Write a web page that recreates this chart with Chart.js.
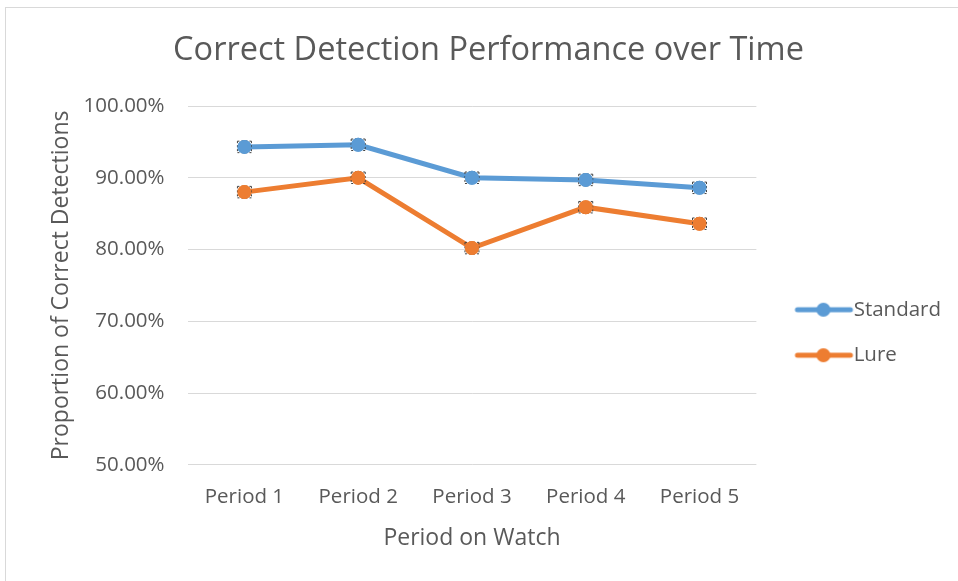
<!DOCTYPE html>
<html>
<head>
<meta charset="utf-8">
<script src="https://cdn.jsdelivr.net/npm/chart.js@4.4.0/dist/chart.umd.min.js"></script>
<style>
  body { margin: 0; background: #fff; }
  #wrap { position: relative; width: 958px; height: 581px; overflow: hidden; }
  #frame { position: absolute; left: 5px; top: 7px; width: 1000px; height: 1000px;
           border: 1px solid #d9d9d9; pointer-events: none; }
</style>
</head>
<body>
<div id="wrap">
  <canvas id="chart" width="958" height="581"></canvas>
  <div id="frame"></div>
</div>
<script>
// data
var periods = ['Period 1', 'Period 2', 'Period 3', 'Period 4', 'Period 5'];
var standard = [0.943, 0.946, 0.900, 0.897, 0.886];
var lure = [0.880, 0.900, 0.802, 0.859, 0.836];
var standardErr = [0.008, 0.008, 0.008, 0.008, 0.008];
var lureErr = [0.008, 0.008, 0.008, 0.008, 0.008];

var blue = '#5B9BD5';
var orange = '#ED7D31';
var textColor = '#595959';

// legend marker: line with a dot, drawn off-centre so the text sits close to it
function legendMark(color) {
    var c = document.createElement('canvas');
    c.width = 84; c.height = 16;
    var g = c.getContext('2d');
    g.strokeStyle = color;
    g.lineWidth = 5;
    g.lineCap = 'round';
    g.beginPath(); g.moveTo(27, 8); g.lineTo(80, 8); g.stroke();
    g.fillStyle = color;
    g.beginPath(); g.arc(53, 8, 7, 0, Math.PI * 2); g.fill();
    return c;
}

// small error bar caps, markers redrawn on top
var errorBars = {
    id: 'errorBars',
    afterDatasetsDraw: function(chart) {
        var ctx = chart.ctx;
        var y = chart.scales.y;
        var errs = [standardErr, lureErr];
        ctx.save();
        ctx.strokeStyle = '#404040';
        ctx.lineWidth = 1;
        ctx.setLineDash([2, 2]);
        chart.data.datasets.forEach(function(ds, i) {
            var meta = chart.getDatasetMeta(i);
            meta.data.forEach(function(pt, j) {
                var top = y.getPixelForValue(ds.data[j] + errs[i][j]);
                var bot = y.getPixelForValue(ds.data[j] - errs[i][j]);
                ctx.beginPath();
                ctx.moveTo(pt.x - 7, top); ctx.lineTo(pt.x + 7, top);
                ctx.moveTo(pt.x - 7, bot); ctx.lineTo(pt.x + 7, bot);
                ctx.moveTo(pt.x - 7, top); ctx.lineTo(pt.x - 7, bot);
                ctx.moveTo(pt.x + 7, top); ctx.lineTo(pt.x + 7, bot);
                ctx.stroke();
            });
        });
        ctx.restore();
        chart.data.datasets.forEach(function(ds, i) {
            chart.getDatasetMeta(i).data.forEach(function(pt) { pt.draw(ctx); });
        });
    }
};

Chart.defaults.font.family = '"Open Sans", sans-serif';
Chart.defaults.color = textColor;

function drawChart() {
    var ctx = document.getElementById('chart').getContext('2d');
    new Chart(ctx, {
        type: 'line',
        data: {
            labels: periods,
            datasets: [{
                label: 'Standard',
                data: standard,
                borderColor: blue,
                backgroundColor: blue,
                borderWidth: 5,
                pointRadius: 7,
                pointBorderWidth: 0,
                pointBackgroundColor: blue
            }, {
                label: 'Lure',
                data: lure,
                borderColor: orange,
                backgroundColor: orange,
                borderWidth: 5,
                pointRadius: 7,
                pointBorderWidth: 0,
                pointBackgroundColor: orange
            }]
        },
        plugins: [errorBars],
        options: {
            responsive: false,
            animation: false,
            layout: { padding: { left: 26, right: 7, top: 8, bottom: 29 } },
            plugins: {
                title: {
                    display: true,
                    text: 'Correct Detection Performance over Time',
                    font: { size: 32.5, weight: 'normal' },
                    color: textColor,
                    padding: { top: 23, bottom: 36 }
                },
                legend: {
                    position: 'right',
                    title: { display: true, text: ' ', font: { size: 10 }, padding: { top: 93, bottom: 0 } },
                    labels: {
                        usePointStyle: true,
                        pointStyleWidth: 62,
                        padding: 25,
                        font: { size: 20.5 },
                        color: textColor,
                        generateLabels: function(chart) {
                            return chart.data.datasets.map(function(ds, i) {
                                return {
                                    text: ds.label,
                                    pointStyle: legendMark(ds.borderColor),
                                    fillStyle: ds.borderColor,
                                    strokeStyle: ds.borderColor,
                                    lineWidth: 0,
                                    datasetIndex: i,
                                    fontColor: textColor
                                };
                            });
                        }
                    }
                },
                tooltip: { enabled: false }
            },
            scales: {
                x: {
                    offset: true,
                    grid: { display: false },
                    border: { display: false },
                    ticks: { font: { size: 20.5 }, color: textColor, padding: 12 },
                    title: { display: true, text: 'Period on Watch', font: { size: 23 }, color: textColor, padding: { top: 3, bottom: 0 } }
                },
                y: {
                    min: 0.5,
                    max: 1.0,
                    grid: { color: '#d9d9d9', lineWidth: 1, drawTicks: false },
                    border: { display: false },
                    ticks: {
                        stepSize: 0.1,
                        font: { size: 20.5 },
                        color: textColor,
                        padding: 23,
                        callback: function(v) { return (v * 100).toFixed(2) + '%'; }
                    },
                    title: { display: true, text: 'Proportion of Correct Detections', font: { size: 23 }, color: textColor, padding: { top: 22, bottom: -15 } }
                }
            }
        }
    });
}

document.fonts.load('20px "Open Sans"').then(drawChart, drawChart);
</script>
</body>
</html>
